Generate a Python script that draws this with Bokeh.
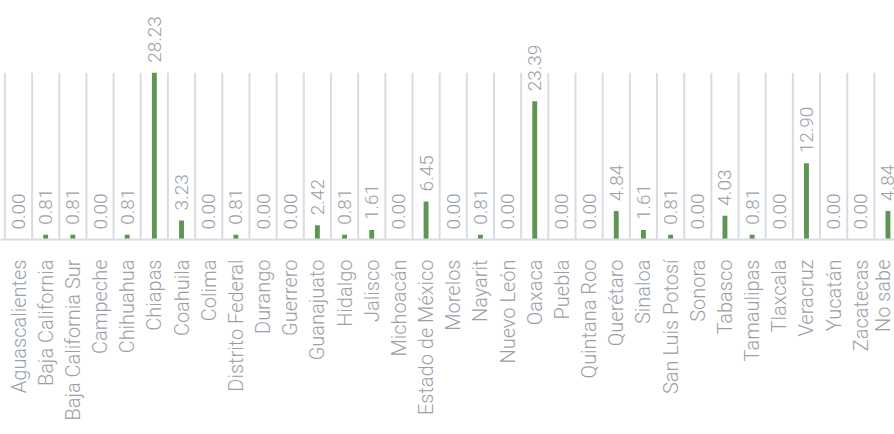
import math
from bokeh.plotting import figure
from bokeh.models import ColumnDataSource, FixedTicker, Range1d
from bokeh.core.properties import value
from bokeh.embed import file_html
from bokeh.resources import INLINE

states = ["Aguascalientes", "Baja California", "Baja California Sur", "Campeche",
          "Chihuahua", "Chiapas", "Coahuila", "Colima", "Distrito Federal",
          "Durango", "Guerrero", "Guanajuato", "Hidalgo", "Jalisco", "Michoacán",
          "Estado de México", "Morelos", "Nayarit", "Nuevo León", "Oaxaca",
          "Puebla", "Quintana Roo", "Querétaro", "Sinaloa", "San Luis Potosí",
          "Sonora", "Tabasco", "Tamaulipas", "Tlaxcala", "Veracruz", "Yucatán",
          "Zacatecas", "No sabe"]
percent = [0.00, 0.81, 0.81, 0.00, 0.81, 28.23, 3.23, 0.00, 0.81, 0.00, 0.00,
           2.42, 0.81, 1.61, 0.00, 6.45, 0.00, 0.81, 0.00, 23.39, 0.00, 0.00,
           4.84, 1.61, 0.81, 0.00, 4.03, 0.81, 0.00, 12.90, 0.00, 0.00, 4.84]

GRAY_TEXT = "#9a9fa7"
GRID = "#d9dce3"
GREEN = "#5e9552"
FONT = "'Roboto Light', Roboto"

idx = list(range(len(states)))
src = ColumnDataSource(dict(x=idx, y=percent, lab=["%.2f" % v for v in percent]))

p = figure(width=894, height=434, output_backend="svg", toolbar_location=None,
           x_range=Range1d(-0.6625, 32.24), y_range=Range1d(0, 40.47),
           y_axis_location=None, min_border_left=0, min_border_right=0,
           min_border_top=0, min_border_bottom=195)
p.outline_line_color = None
p.xgrid.visible = False
p.ygrid.visible = False

# vertical separators between categories
top = max(percent)
sep_x = [i - 0.5 for i in range(len(states) + 1)]
p.segment(x0=sep_x, y0=[0] * len(sep_x), x1=sep_x, y1=[top] * len(sep_x),
          line_color=GRID, line_width=2)

p.vbar(x="x", top="y", bottom=0, width=0.18, source=src,
       fill_color=GREEN, line_color=None)

p.text(x="x", y="y", text="lab", source=src, angle=math.pi / 2,
       text_align="left", text_baseline="middle", y_offset=-10,
       text_font=value(FONT), text_font_size="19px", text_color=GRAY_TEXT)

ax = p.xaxis[0]
ax.ticker = FixedTicker(ticks=idx)
ax.major_label_overrides = {i: s for i, s in enumerate(states)}
ax.major_label_orientation = math.pi / 2
ax.major_label_text_font = FONT
ax.major_label_text_font_size = "20px"
ax.major_label_text_color = GRAY_TEXT
ax.major_label_standoff = 14
ax.major_tick_line_color = None
ax.minor_tick_line_color = None
ax.axis_line_color = GRID
ax.axis_line_width = 2

open("out.html", "w").write(file_html(p, INLINE))
